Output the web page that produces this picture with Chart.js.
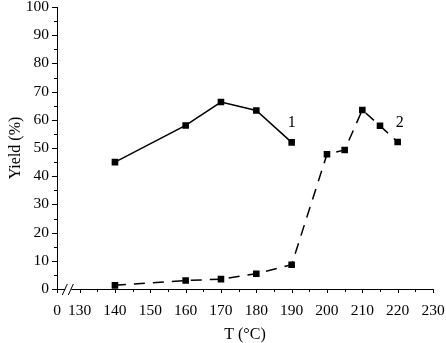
<!DOCTYPE html>
<html>
<head>
<meta charset="utf-8">
<script src="https://cdn.jsdelivr.net/npm/chart.js@4"></script>
<style>
  html, body { margin: 0; padding: 0; background: #fff; }
  #wrap { width: 446px; height: 343px; }
</style>
</head>
<body>
<div id="wrap"><canvas id="yieldChart"></canvas></div>
<script>
// data
const tempSeries1 = [140, 160, 170, 180, 190];
const yieldSeries1 = [45, 58, 66.3, 63.3, 52];
const tempSeries2 = [140, 160, 170, 180, 190, 200, 205, 210, 215, 220];
const yieldSeries2 = [1.3, 3, 3.5, 5.4, 8.6, 47.8, 49.3, 63.5, 57.9, 52.1];
const xTickValues = [130, 140, 150, 160, 170, 180, 190, 200, 210, 220, 230];
const xBreakStart = 123.6; // where the "0" sits left of the axis break
const curveLabels = [
  { text: "1", x: 190, y: 59 },
  { text: "2", x: 220.6, y: 59 }
];

const serif = "'Liberation Serif', 'DejaVu Serif', serif";

// minor/major ticks, axis break and curve numbers
const extras = {
  id: "extras",
  afterDraw(chart) {
    const c = chart.ctx;
    const xs = chart.scales.x, ys = chart.scales.y;
    const axisY = ys.getPixelForValue(0);
    const axisX = xs.getPixelForValue(xBreakStart);
    c.save();
    c.strokeStyle = "#000";
    c.lineWidth = 1;
    c.beginPath();
    for (let v = 0; v <= 100; v += 5) {
      const p = Math.round(ys.getPixelForValue(v)) + 0.5;
      const len = v % 10 === 0 ? 5 : 3;
      c.moveTo(axisX - len, p);
      c.lineTo(axisX, p);
    }
    c.moveTo(axisX + 0.5, axisY);
    c.lineTo(axisX + 0.5, axisY + 4);
    for (let v = xTickValues[0]; v <= xTickValues[xTickValues.length - 1]; v += 5) {
      const p = Math.round(xs.getPixelForValue(v)) + 0.5;
      const len = v % 10 === 0 ? 4 : 3;
      c.moveTo(p, axisY);
      c.lineTo(p, axisY + len);
    }
    c.stroke();

    // break marks on the x axis
    const bx = (axisX + xs.getPixelForValue(xTickValues[0])) / 2;
    c.fillStyle = "#fff";
    c.fillRect(bx - 3, axisY - 2, 6, 4);
    c.beginPath();
    c.moveTo(bx - 6, axisY + 6);
    c.lineTo(bx - 1, axisY - 5);
    c.moveTo(bx, axisY + 6);
    c.lineTo(bx + 5, axisY - 5);
    c.stroke();

    c.fillStyle = "#000";
    c.font = "16px " + serif;
    c.textAlign = "center";
    c.textBaseline = "middle";
    curveLabels.forEach(l => {
      c.fillText(l.text, xs.getPixelForValue(l.x), ys.getPixelForValue(l.y));
    });
    c.restore();
  }
};

new Chart(document.getElementById("yieldChart"), {
  type: "line",
  data: {
    datasets: [
      {
        label: "1",
        data: tempSeries1.map((t, i) => ({ x: t, y: yieldSeries1[i] })),
        borderColor: "#000",
        backgroundColor: "#000",
        borderWidth: 1.5,
        pointStyle: "rect",
        pointRadius: 3.6,
        tension: 0
      },
      {
        label: "2",
        data: tempSeries2.map((t, i) => ({ x: t, y: yieldSeries2[i] })),
        borderColor: "#000",
        backgroundColor: "#000",
        borderWidth: 1.5,
        borderDash: [11, 8],
        pointStyle: "rect",
        pointRadius: 3.6,
        tension: 0
      }
    ]
  },
  options: {
    responsive: true,
    maintainAspectRatio: false,
    animation: false,
    layout: { padding: { top: 7, right: 13, left: 0, bottom: 0 } },
    plugins: { legend: { display: false }, tooltip: { enabled: false } },
    scales: {
      x: {
        type: "linear",
        min: xBreakStart,
        max: xTickValues[xTickValues.length - 1],
        afterBuildTicks: s => {
          s.ticks = [xBreakStart].concat(xTickValues).map(v => ({ value: v }));
        },
        afterFit: s => {
          s.height = 54;
          s.paddingLeft = 0;
          s.paddingRight = 0;
        },
        border: { display: true, color: "#000", width: 1 },
        grid: { display: false, drawTicks: false },
        ticks: {
          color: "#000",
          font: { family: serif, size: 15.5 },
          padding: 13,
          maxRotation: 0,
          autoSkip: false,
          callback: v => (v === xBreakStart ? "0" : v)
        },
        title: {
          display: true,
          text: "T (°C)",
          color: "#000",
          font: { family: serif, size: 16 },
          padding: { top: 0, bottom: -1 }
        }
      },
      y: {
        min: 0,
        max: 100,
        afterFit: s => {
          s.width = 57;
          s.paddingTop = 0;
          s.paddingBottom = 0;
        },
        border: { display: true, color: "#000", width: 1 },
        grid: { display: false, drawTicks: false },
        ticks: {
          stepSize: 10,
          color: "#000",
          font: { family: serif, size: 15.5 },
          padding: 8
        },
        title: {
          display: true,
          text: "Yield (%)",
          color: "#000",
          font: { family: serif, size: 16 },
          padding: { top: 6, bottom: 0 }
        }
      }
    }
  },
  plugins: [extras]
});
</script>
</body>
</html>
